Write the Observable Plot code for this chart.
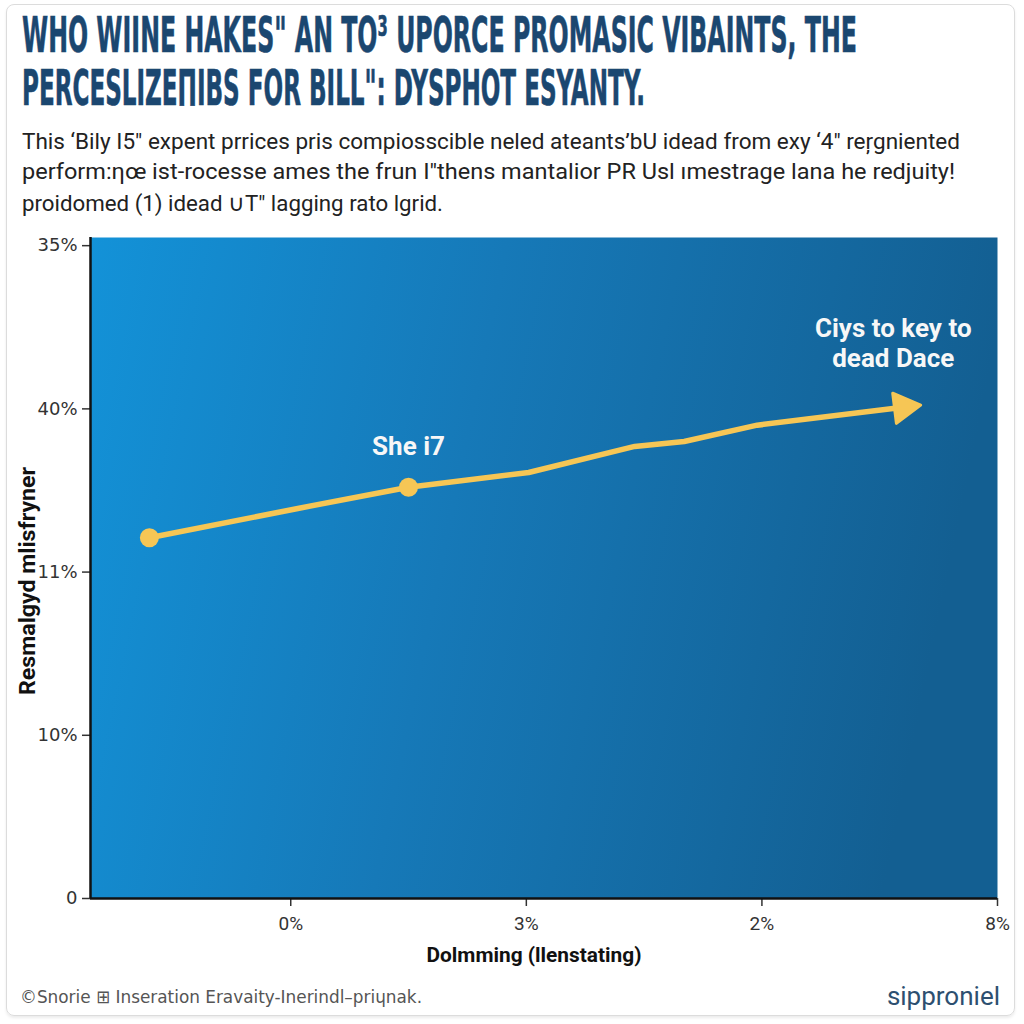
<!DOCTYPE html>
<html>
<head>
<meta charset="utf-8">
<script src="https://cdn.jsdelivr.net/npm/d3@7"></script>
<script src="https://cdn.jsdelivr.net/npm/@observablehq/plot@0.6"></script>
<style>
  html, body { margin: 0; padding: 0; background: #ffffff; }
  body { width: 1024px; height: 1024px; position: relative; overflow: hidden; }
  #card { position: absolute; left: 6px; top: 4px; width: 1009px; height: 1012px;
          border: 1.5px solid #dcdcdc; border-radius: 8px; box-sizing: border-box;
          box-shadow: 0 2px 3px rgba(0,0,0,0.08); }
  .fit { position: absolute; white-space: nowrap; transform-origin: 0 0; }
  .title { left: 22px; font-family: "DejaVu Sans Condensed", "DejaVu Sans"; font-stretch: condensed;
           font-weight: bold; font-size: 50px; line-height: 53px; color: #1b4770;
           -webkit-text-stroke: 0.6px #1b4770; }
  .sub { left: 22px; font-family: "Roboto", sans-serif; font-size: 22.5px; line-height: 30px; color: #222; }
  #foot { left: 20px; top: 985px; font-family: "DejaVu Sans Condensed", "DejaVu Sans"; font-size: 18px;
          line-height: 24px; color: #555; }
  #brand { position: absolute; right: 24px; top: 980px; font-family: "Roboto", sans-serif; font-size: 26px;
           line-height: 32px; color: #2d4f70; }
  #chart { position: absolute; left: 0; top: 220px; }
</style>
</head>
<body>
<div id="card"></div>
<div id="chart"></div>
<script>
// ---- text content ----
const titleLines = [
  "WHO WIINE HAKES\" AN TO\u00B3 UPORCE PROMASIC VIBAINTS, THE",
  "PERCESLIZE\u03A0IBS FOR BILL\": DYSPHOT ESYANTY."
];
const subtitleLines = [
  "This \u2018Bily I5\" expent prrices pris compiosscible neled ateants\u2019bU idead from exy \u20184\" re\u0157gniented",
  "perform:\u03B7\u0153 ist-rocesse ames the frun I\"thens mantalior PR Usl \u0131mestrage lana he redjuity!",
  "proidomed (1) idead \u222AT\" lagging rato lgrid."
];
const footerText = "\u00A9Snorie \u229E Inseration Eravaity-Inerindl\u2013pri\u0265nak.";
const brandText = "sipproniel";
const xTitle = "Dolmming (llenstating)";
const yTitle = "Resmalgyd mlisfryner";

// ---- axis ticks ----
const xTicks = [0, 1, 2, 3];
const xTickLabels = ["0%", "3%", "2%", "8%"];
const yTicks = [0, 1, 2, 3, 4];
const yTickLabels = ["0", "10%", "11%", "40%", "35%"];

// ---- series ----
const xVals = [-0.60, 0.03, 0.50, 1.01, 1.46, 1.67, 1.98, 2.60];
const yVals = [2.21, 2.39, 2.52, 2.61, 2.77, 2.80, 2.90, 3.01];
const dotIdx = [0, 2];
const labelA = "She i7";
const labelB = "Ciys to key to\ndead Dace";

// ---- header / footer text ----
function addFit(text, cls, top, targetWidth, id) {
  const el = document.createElement("div");
  el.className = "fit " + cls;
  if (id) el.id = id;
  el.textContent = text;
  if (top != null) el.style.top = top + "px";
  document.body.appendChild(el);
  const w = el.getBoundingClientRect().width;
  el.style.transform = `scaleX(${targetWidth / w})`;
  return el;
}
addFit(titleLines[0], "title", 9, 835);
addFit(titleLines[1], "title", 62, 623);
addFit(subtitleLines[0], "sub", 126, 938);
addFit(subtitleLines[1], "sub", 156, 933);
addFit(subtitleLines[2], "sub", 188, 421);
addFit(footerText, "", null, 402, "foot");
const brand = document.createElement("div");
brand.id = "brand"; brand.textContent = brandText;
document.body.appendChild(brand);

// ---- chart ----
const pts = xVals.map((x, i) => ({x, y: yVals[i]}));
const yLab = new Map(yTicks.map((t, i) => [t, yTickLabels[i]]));
const xLab = new Map(xTicks.map((t, i) => [t, xTickLabels[i]]));
const last = pts[pts.length - 1];

const gradient = () => {
  const defs = d3.create("svg:defs");
  const g = defs.append("linearGradient").attr("id", "bg")
    .attr("x1", "0").attr("y1", "0").attr("x2", "1").attr("y2", "0.15");
  g.append("stop").attr("offset", "0%").attr("stop-color", "#1392d8");
  g.append("stop").attr("offset", "45%").attr("stop-color", "#1679b8");
  g.append("stop").attr("offset", "100%").attr("stop-color", "#135f92");
  return defs.node();
};

const plot = Plot.plot({
  width: 1024,
  height: 760,
  marginLeft: 90,
  marginRight: 27,
  marginTop: 17,
  marginBottom: 82,
  style: {fontSize: "18px", fontFamily: "Roboto", background: "transparent"},
  x: {domain: [-0.85, 3], axis: null},
  y: {domain: [0, 4.05], axis: null},
  marks: [
    gradient,
    Plot.frame({fill: "url(#bg)", stroke: null}),
    Plot.axisY({ticks: yTicks, tickFormat: d => yLab.get(d), tickSize: 8, tickPadding: 5,
                fontFamily: "DejaVu Sans", fontSize: 18, color: "#333", strokeWidth: 1.5, label: null}),
    Plot.axisX({ticks: xTicks, tickFormat: d => xLab.get(d), tickSize: 8, tickPadding: 10,
                fontFamily: "Roboto", fontSize: 19, color: "#333", strokeWidth: 1.5, label: null}),
    Plot.ruleX([-0.85], {stroke: "#111", strokeWidth: 2.5}),
    Plot.ruleY([0], {stroke: "#111", strokeWidth: 2.5}),
    Plot.line(pts, {x: "x", y: "y", stroke: "#f6c655", strokeWidth: 5.5,
                    strokeLinejoin: "round", strokeLinecap: "round"}),
    Plot.dot(dotIdx.map(i => pts[i]), {x: "x", y: "y", r: 9.5, fill: "#f6c655", stroke: null}),
    Plot.dot([last], {x: "x", y: "y", symbol: "triangle2", r: 14.5, rotate: 83,
                      fill: "#f6c655", stroke: "#f6c655", strokeWidth: 3, strokeLinejoin: "round"}),
    Plot.text([pts[dotIdx[1]]], {x: "x", y: "y", text: () => labelA, dy: -41,
                 fill: "#f7f7f7", fontWeight: "bold", fontSize: 26, fontFamily: "Roboto"}),
    Plot.text([last], {x: "x", y: "y", text: () => labelB, dx: -10, dy: -65, lineHeight: 1.15,
                 fill: "#f7f7f7", fontWeight: "bold", fontSize: 26, fontFamily: "Roboto"}),
    Plot.text([xTitle], {text: d => d, frameAnchor: "bottom", dx: -10, dy: 57,
                 textAnchor: "middle", lineAnchor: "middle",
                 fill: "#111", fontWeight: "bold", fontSize: 21, fontFamily: "Roboto"}),
    Plot.text([yTitle], {text: d => d, frameAnchor: "left", dx: -63, dy: 13, rotate: -90,
                 textAnchor: "middle", lineAnchor: "middle",
                 fill: "#111", fontWeight: "bold", fontSize: 22, fontFamily: "Roboto"})
  ]
});
d3.select(plot).selectAll("text").each(function () {
  const t = this.textContent;
  if (t === xTitle) d3.select(this).attr("textLength", 215).attr("lengthAdjust", "spacingAndGlyphs");
  if (t === yTitle) d3.select(this).attr("textLength", 228).attr("lengthAdjust", "spacingAndGlyphs");
});
document.getElementById("chart").appendChild(plot);
</script>
</body>
</html>
